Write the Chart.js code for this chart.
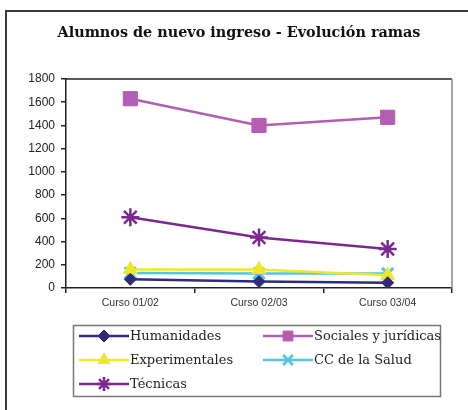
<!DOCTYPE html>
<html>
<head>
<meta charset="utf-8">
<script src="https://cdn.jsdelivr.net/npm/chart.js@4/dist/chart.umd.min.js"></script>
<style>
  html, body { margin: 0; padding: 0; background: #fff; }
  #wrap { position: relative; width: 468px; height: 410px; }
</style>
</head>
<body>
<div id="wrap"><canvas id="ramasChart" width="468" height="410"></canvas></div>
<script>
const titulo = 'Alumnos de nuevo ingreso - Evolución ramas';
const cursos = ['Curso 01/02', 'Curso 02/03', 'Curso 03/04'];
const humanidades = [75, 55, 45];
const sociales = [1630, 1400, 1470];
const experimentales = [160, 160, 110];
const ccSalud = [130, 125, 125];
const tecnicas = [610, 435, 335];
const yTicks = [0, 200, 400, 600, 800, 1000, 1200, 1400, 1600, 1800];

const serif = "'DejaVu Serif', serif";
const sans = "'Liberation Sans', Arial, sans-serif";

function serie(label, values, color, style, radius, width) {
    return {
        label: label,
        data: values,
        borderColor: color,
        backgroundColor: color,
        borderWidth: 2.5,
        pointStyle: style,
        pointRadius: radius,
        pointHoverRadius: radius,
        pointBorderWidth: width,
        pointBorderColor: color,
        pointBackgroundColor: color,
        tension: 0
    };
}

const datasets = [
    serie('Humanidades', humanidades, '#2e2b7c', 'rectRot', 6, 1),
    serie('Sociales y jurídicas', sociales, '#b35db3', 'rect', 10, 1),
    serie('Experimentales', experimentales, '#eee82a', 'triangle', 8, 1),
    serie('CC de la Salud', ccSalud, '#55c6de', 'crossRot', 8, 3),
    serie('Técnicas', tecnicas, '#7c2890', 'star', 9, 2.5)
];

// frame, title, plot border and the legend box
const decor = {
    id: 'decor',
    beforeDraw(chart) {
        const c = chart.ctx;
        c.save();
        c.strokeStyle = '#3a3a3a';
        c.lineWidth = 2;
        c.strokeRect(6, 11, 480, 420);
        c.font = 'bold 14.4px ' + serif;
        c.fillStyle = '#111';
        c.textAlign = 'center';
        c.textBaseline = 'middle';
        c.fillText(titulo, 239, 33);
        c.restore();
    },
    afterDraw(chart) {
        const c = chart.ctx;
        const a = chart.chartArea;
        c.save();
        c.lineWidth = 1.5;
        c.strokeStyle = '#222';
        c.beginPath();
        c.moveTo(a.left, a.top);
        c.lineTo(a.right, a.top);
        c.stroke();
        c.strokeStyle = '#888';
        c.beginPath();
        c.moveTo(a.right, a.top);
        c.lineTo(a.right, a.bottom);
        c.stroke();

        // legend
        c.strokeStyle = '#777';
        c.lineWidth = 1.5;
        c.strokeRect(73.5, 325.5, 367, 71);
        c.font = '13px ' + serif;
        c.textBaseline = 'middle';
        chart.data.datasets.forEach((ds, i) => {
            const col = i % 2;
            const row = Math.floor(i / 2);
            const x0 = col === 0 ? 79 : 263;
            const y = 336 + row * 24;
            c.strokeStyle = ds.borderColor;
            c.lineWidth = 2.5;
            c.beginPath();
            c.moveTo(x0, y);
            c.lineTo(x0 + 50, y);
            c.stroke();
            c.fillStyle = ds.pointBackgroundColor;
            c.strokeStyle = ds.pointBorderColor;
            c.lineWidth = ds.pointBorderWidth;
            Chart.helpers.drawPoint(c, {
                pointStyle: ds.pointStyle,
                radius: Math.min(ds.pointRadius, 7),
                rotation: 0,
                borderWidth: ds.pointBorderWidth
            }, x0 + 25, y);
            c.fillStyle = '#222';
            c.fillText(ds.label, x0 + 51, y + 1);
        });
        c.restore();
    }
};

new Chart(document.getElementById('ramasChart').getContext('2d'), {
    type: 'line',
    data: { labels: cursos, datasets: datasets },
    plugins: [decor],
    options: {
        responsive: false,
        animation: false,
        layout: { padding: { left: 6, right: 16, top: 79, bottom: 100 } },
        scales: {
            x: {
                offset: true,
                grid: { offset: true, drawOnChartArea: false, tickLength: 5, color: '#222', lineWidth: 1.5 },
                border: { color: '#222', width: 1.5 },
                ticks: { color: '#333', font: { family: sans, size: 10.5 }, padding: 4, maxRotation: 0 },
                afterFit(scale) { scale.height = 22; }
            },
            y: {
                min: 0,
                max: 1800,
                afterBuildTicks(scale) { scale.ticks = yTicks.map(v => ({ value: v })); },
                grid: { drawOnChartArea: false, tickLength: 5, color: '#222', lineWidth: 1.5 },
                border: { color: '#222', width: 1.5 },
                ticks: {
                    color: '#222',
                    font: { family: sans, size: 12 },
                    padding: 6,
                    callback: v => String(v)
                },
                afterFit(scale) { scale.width = 60; }
            }
        },
        plugins: {
            legend: { display: false },
            tooltip: { enabled: false },
            title: { display: false }
        }
    }
});
</script>
</body>
</html>
